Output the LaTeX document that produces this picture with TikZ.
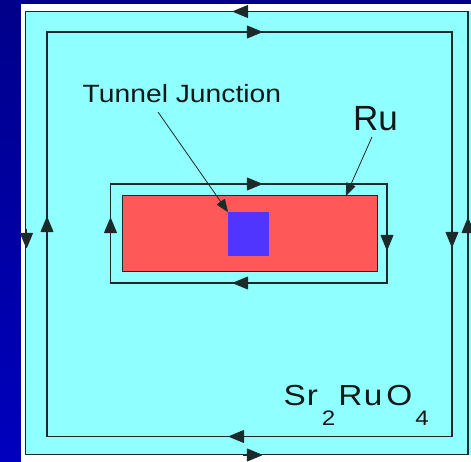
\documentclass[tikz,border=0pt]{standalone}
\usepackage{fontspec}
\setmainfont{Liberation Sans}
\usetikzlibrary{arrows.meta}
\definecolor{bgtop}{HTML}{00008A}
\definecolor{bgbot}{HTML}{0000BE}
\definecolor{cyanfill}{HTML}{90FFFF}
\definecolor{redfill}{HTML}{FF5858}
\definecolor{bluefill}{HTML}{5034FF}
\definecolor{linec}{HTML}{1C2A2A}
\definecolor{textc}{HTML}{101818}
\tikzset{
  loopline/.style={draw=linec, line width=1.1pt},
  flowtip/.style={-{Stealth[inset=0pt,length=16pt,width=13pt,round]}, draw=linec, fill=linec, line width=1.1pt},
  leader/.style={-{Stealth[inset=0pt,length=13pt,width=10pt,round]}, draw=linec, line width=0.8pt},
  lbl/.style={inner sep=0pt, anchor=base west, text=textc},
}
\begin{document}
\begin{tikzpicture}[x=1pt,y=-1pt]
\useasboundingbox (0,0) rectangle (471,462);
% background
\shade[top color=bgtop,bottom color=bgbot] (0,0) rectangle (471,462);
\fill[white] (21,4.5) rectangle (471,462);
\fill[cyanfill] (25.5,11.5) rectangle (471,454.5);
% outer loop
\draw[loopline] (25.5,11.5) rectangle (468,454.5);
% inner big loop
\draw[loopline] (47,32) rectangle (452,436.5);
% Ru loop
\draw[loopline] (110.5,184) rectangle (387,283);
% Ru crystal and junction
\node[draw=linec, line width=1pt, fill=redfill, inner sep=0pt, anchor=north west,
      minimum width=254.7pt, minimum height=76pt] (ru) at (122,195) {};
\node[fill=bluefill, inner sep=0pt, anchor=north west,
      minimum width=41.3pt, minimum height=44.3pt] (jn) at (227.7,211.7) {};
% arrows, outer loop
\draw[flowtip] (252,11.5) -- (233,11.5);
\draw[flowtip] (26.5,229) -- (26.5,248);
\draw[flowtip] (468,237) -- (468,218);
\draw[flowtip] (243,455) -- (262,455);
% arrows, inner loop
\draw[flowtip] (243,32) -- (262,32);
\draw[flowtip] (47,236) -- (47,217);
\draw[flowtip] (452,228) -- (452,247);
\draw[flowtip] (248,436.5) -- (229,436.5);
% arrows, Ru loop
\draw[flowtip] (243,184) -- (262,184);
\draw[flowtip] (387,231) -- (387,250);
\draw[flowtip] (252,283) -- (233,283);
\draw[flowtip] (110.5,237) -- (110.5,218);
% labels
\node[lbl, font=\fontsize{25}{25}\selectfont, xscale=1.13] (tj) at (82.5,103) {Tunnel Junction};
\node[lbl, font=\fontsize{35}{35}\selectfont] (rulbl) at (353,131) {Ru};
\node[lbl, font=\fontsize{29}{29}\selectfont, xscale=1.15] (sro) at (283.5,405)
  {S\hspace{0.7pt}r\hspace{3.4pt}\raisebox{-20pt}{\fontsize{21}{21}\selectfont 2}\hspace{2.7pt}R\hspace{1.2pt}u\hspace{3.5pt}O\hspace{2.7pt}\raisebox{-20pt}{\fontsize{21}{21}\selectfont 4}};
% leaders
\coordinate (tjstart) at (158,112);
\coordinate (rustart) at (372,137);
\coordinate (rutip) at (346,195.5);
\draw[leader] (tjstart) -- (jn.north west);
\draw[leader] (rustart) -- (rutip);
\end{tikzpicture}
\end{document}
